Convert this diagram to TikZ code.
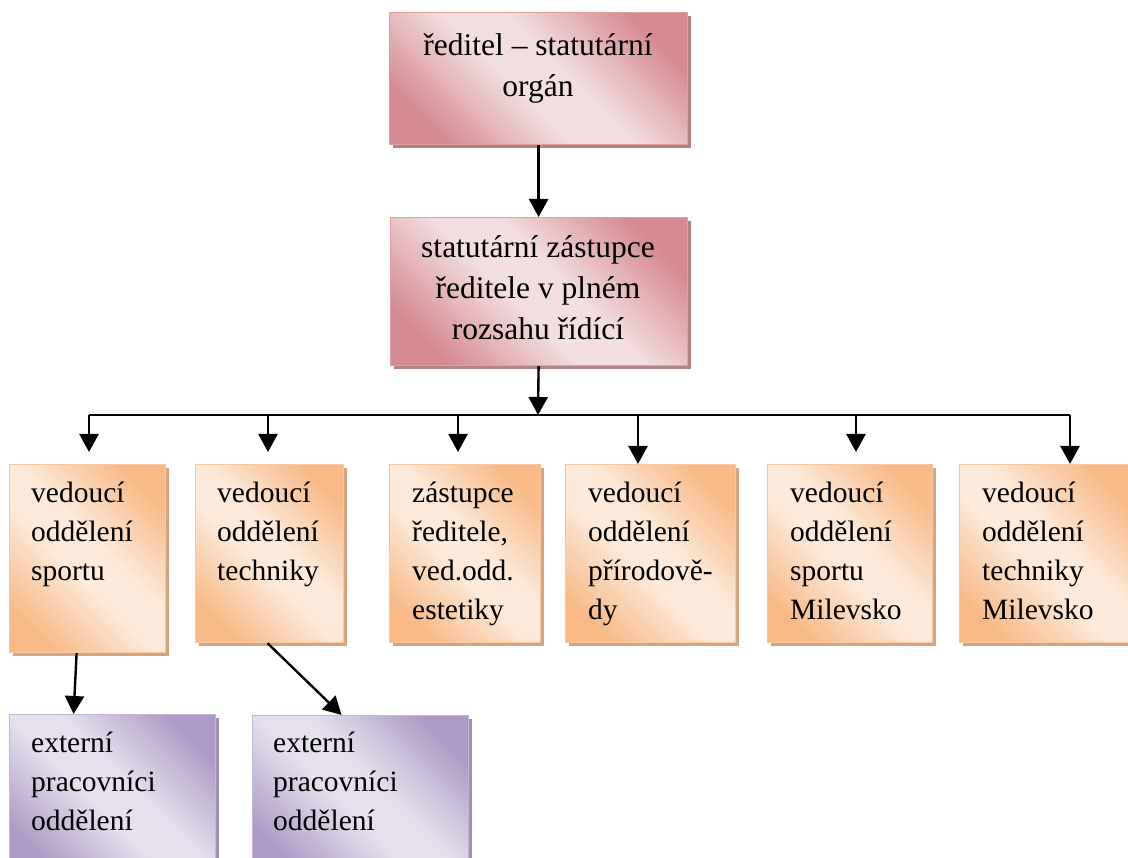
\documentclass[tikz,border=0pt]{standalone}
\usepackage{fontspec}
\setmainfont{Liberation Serif}
\usetikzlibrary{shadows,arrows.meta}
\definecolor{pkD}{RGB}{212,138,144}
\definecolor{pkL}{RGB}{243,223,225}
\definecolor{pkB}{RGB}{226,160,165}
\definecolor{pkS}{RGB}{178,132,132}
\definecolor{orD}{RGB}{247,186,135}
\definecolor{orL}{RGB}{253,234,218}
\definecolor{orB}{RGB}{250,200,160}
\definecolor{orS}{RGB}{212,165,130}
\definecolor{puD}{RGB}{174,156,198}
\definecolor{puL}{RGB}{230,224,238}
\definecolor{puB}{RGB}{195,182,215}
\definecolor{puS}{RGB}{160,145,180}
\pgfdeclarehorizontalshading{pksh}{100bp}{color(0bp)=(pkD); color(24bp)=(pkD); color(45bp)=(pkL); color(55bp)=(pkL); color(76bp)=(pkD); color(100bp)=(pkD)}
\pgfdeclarehorizontalshading{orsh}{100bp}{color(0bp)=(orD); color(24bp)=(orD); color(45bp)=(orL); color(55bp)=(orL); color(76bp)=(orD); color(100bp)=(orD)}
\pgfdeclarehorizontalshading{push}{100bp}{color(0bp)=(puD); color(24bp)=(puD); color(45bp)=(puL); color(55bp)=(puL); color(76bp)=(puD); color(100bp)=(puD)}
\tikzset{
  box/.style={rectangle, inner sep=0pt, anchor=north west, line width=1.2pt},
  pkbox/.style={box, draw=pkB, shading=pksh, shading angle=45, general shadow={fill=pkS, shadow xshift=3pt, shadow yshift=-3pt}},
  orbox/.style={box, draw=orB, shading=orsh, shading angle=45, general shadow={fill=orS, shadow xshift=3pt, shadow yshift=-3pt}},
  pubox/.style={box, draw=puB, shading=push, shading angle=45, general shadow={fill=puS, shadow xshift=3pt, shadow yshift=-3pt}},
  toptext/.style={inner sep=0pt, anchor=north, align=center, font=\fontsize{31.5}{41}\selectfont},
  lowtext/.style={inner sep=0pt, anchor=north west, align=left, font=\fontsize{29.5}{39}\selectfont},
  arr/.style={line width=2.4pt, -{Triangle[width=19pt,length=18pt]}},
  ln/.style={line width=2.4pt}
}
\newcommand\tst{\rule{0pt}{25pt}}
\newcommand\lst{\rule{0pt}{23.5pt}}
\begin{document}
\begin{tikzpicture}[x=1pt,y=-1pt]
\useasboundingbox (0,0) rectangle (1128,858);
% boxes
\node[pkbox, minimum width=298pt, minimum height=132pt] (n1) at (389,12) {};
\node[pkbox, minimum width=297pt, minimum height=148pt] (n2) at (390,217) {};
\node[orbox, minimum width=156pt, minimum height=188pt] (o1) at (9,464) {};
\node[orbox, minimum width=148pt, minimum height=178pt] (o2) at (195,464) {};
\node[orbox, minimum width=151pt, minimum height=178pt] (o3) at (389,464) {};
\node[orbox, minimum width=170pt, minimum height=178pt] (o4) at (565,464) {};
\node[orbox, minimum width=165pt, minimum height=178pt] (o5) at (767,464) {};
\node[orbox, minimum width=176pt, minimum height=178pt] (o6) at (959,464) {};
\node[pubox, minimum width=206pt, minimum height=160pt] (p1) at (9,714) {};
\node[pubox, minimum width=216pt, minimum height=160pt] (p2) at (252,715) {};
% texts
\node[toptext] (t1) at (538,30) {\tst ředitel – statutární\\orgán};
\node[toptext] (t2) at (538,232) {\tst statutární zástupce\\ředitele v plném\\rozsahu řídící};
\node[lowtext] (to1) at (31,478.5) {\lst vedoucí\\oddělení\\sportu};
\node[lowtext] (to2) at (217,478.5) {\lst vedoucí\\oddělení\\techniky};
\node[lowtext] (to3) at (412,478.5) {\lst zástupce\\ředitele,\\ved.odd.\\estetiky};
\node[lowtext] (to4) at (588,478.5) {\lst vedoucí\\oddělení\\přírodově-\\dy};
\node[lowtext] (to5) at (790,478.5) {\lst vedoucí\\oddělení\\sportu\\Milevsko};
\node[lowtext] (to6) at (982,478.5) {\lst vedoucí\\oddělení\\techniky\\Milevsko};
\node[lowtext] (tp1) at (31,728.5) {\lst externí\\pracovníci\\oddělení};
\node[lowtext] (tp2) at (273,728.5) {\lst externí\\pracovníci\\oddělení};
% connectors
\coordinate (bus) at (538,415);
\coordinate (b1) at (89,415);
\coordinate (b2) at (268,415);
\coordinate (b3) at (458,415);
\coordinate (b4) at (638,415);
\coordinate (b5) at (856,415);
\coordinate (b6) at (1070,415);
\draw[arr] (n1.south) -- (n1.south |- n2.north);
\draw[arr] (n1.south |- n2.south) -- (bus);
\draw[ln] (b1) -- (b6);
\draw[arr, shorten >=12pt] (b1) -- (b1 |- o1.north);
\draw[arr, shorten >=12pt] (b2) -- (b2 |- o2.north);
\draw[arr, shorten >=12pt] (b3) -- (b3 |- o3.north);
\draw[arr] (b4) -- (b4 |- o4.north);
\draw[arr, shorten >=12pt] (b5) -- (b5 |- o5.north);
\draw[arr] (b6) -- (b6 |- o6.north);
\draw[arr] ([xshift=-11pt]o1.south) -- ([xshift=-39pt]p1.north);
\draw[arr] ([xshift=-2pt]o2.south) -- ([xshift=-19pt]p2.north);
\end{tikzpicture}
\end{document}
